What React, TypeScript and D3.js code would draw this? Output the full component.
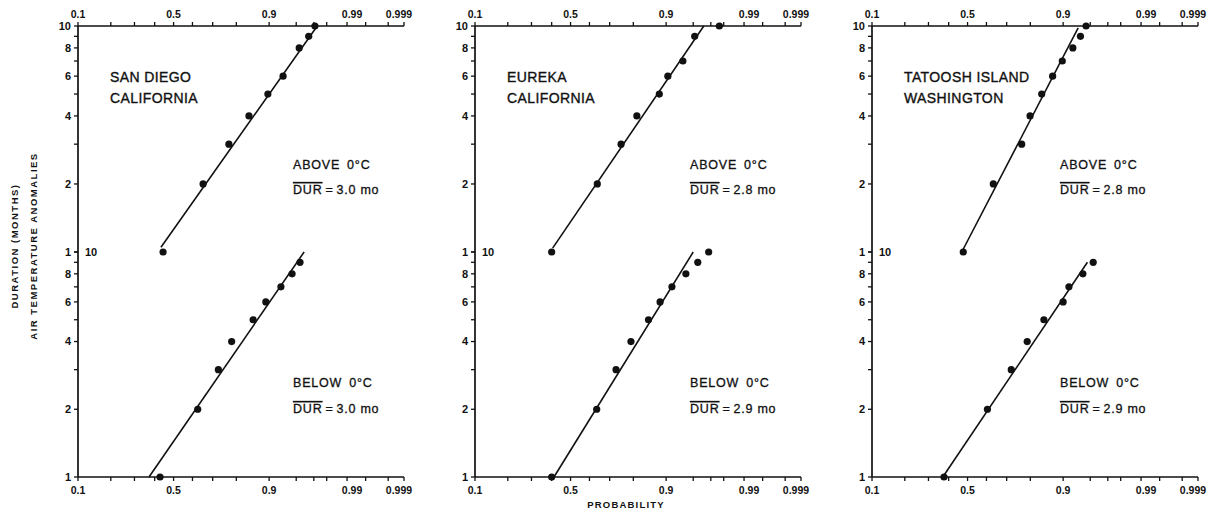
import React from "react";
import * as d3 from "d3";

// ---------- data ----------
const stationNames = ["SAN DIEGO", "EUREKA", "TATOOSH ISLAND"];
const stationStates = ["CALIFORNIA", "CALIFORNIA", "WASHINGTON"];
const meanAbove = ["3.0", "2.8", "2.8"];
const meanBelow = ["3.0", "2.9", "2.9"];

const probTicks = [0.1, 0.2, 0.3, 0.4, 0.5, 0.6, 0.7, 0.8, 0.9, 0.95, 0.97, 0.98, 0.99, 0.995, 0.998, 0.999];
const probLabels = [0.1, 0.5, 0.9, 0.99, 0.999];
const durTicks = [1, 2, 3, 4, 5, 6, 7, 8, 9, 10];
const durLabels = [10, 8, 6, 4, 2];

const sdAboveDur = [1, 2, 3, 4, 5, 6, 8, 9, 10];
const sdAboveProb = [0.444, 0.654, 0.771, 0.844, 0.897, 0.929, 0.954, 0.965, 0.971];
const sdBelowDur = [1, 2, 3, 4, 5, 6, 7, 8, 9];
const sdBelowProb = [0.428, 0.627, 0.726, 0.782, 0.857, 0.892, 0.925, 0.944, 0.955];

const euAboveDur = [1, 2, 3, 4, 5, 6, 7, 9, 10];
const euAboveProb = [0.4, 0.64, 0.751, 0.813, 0.883, 0.904, 0.934, 0.952, 0.977];
const euBelowDur = [1, 2, 3, 4, 5, 6, 7, 8, 9, 10];
const euBelowProb = [0.4, 0.637, 0.729, 0.791, 0.852, 0.885, 0.913, 0.939, 0.956, 0.968];

const taAboveDur = [1, 2, 3, 4, 5, 6, 7, 8, 9, 10];
const taAboveProb = [0.477, 0.635, 0.766, 0.799, 0.84, 0.873, 0.898, 0.921, 0.935, 0.944];
const taBelowDur = [1, 2, 3, 4, 5, 6, 7, 8, 9];
const taBelowProb = [0.376, 0.605, 0.721, 0.788, 0.847, 0.9, 0.913, 0.939, 0.954];

// fitted lines: [probability, duration] end points
const sdAboveFit = [[0.433, 1.05], [0.973, 10]];
const sdBelowFit = [[0.371, 1], [0.96, 10]];
const euAboveFit = [[0.405, 1.04], [0.963, 10]];
const euBelowFit = [[0.412, 1], [0.95, 10]];
const taAboveFit = [[0.469, 1], [0.931, 9.8]];
const taBelowFit = [[0.37, 1], [0.946, 9]];

// ---------- helpers ----------
function probit(p: number): number {
  const a = [-3.969683028665376e1, 2.209460984245205e2, -2.759285104469687e2, 1.38357751867269e2, -3.066479806614716e1, 2.506628277459239];
  const b = [-5.447609879822406e1, 1.615858368580409e2, -1.556989798598866e2, 6.680131188771972e1, -1.328068155288572e1];
  const c = [-7.784894002430293e-3, -3.223964580411365e-1, -2.400758277161838, -2.549732539343734, 4.374664141464968, 2.938163982698783];
  const d = [7.784695709041462e-3, 3.224671290700398e-1, 2.445134137142996, 3.754408661907416];
  const plow = 0.02425;
  if (p < plow) {
    const q = Math.sqrt(-2 * Math.log(p));
    return (((((c[0] * q + c[1]) * q + c[2]) * q + c[3]) * q + c[4]) * q + c[5]) / ((((d[0] * q + d[1]) * q + d[2]) * q + d[3]) * q + 1);
  }
  if (p <= 1 - plow) {
    const q = p - 0.5;
    const r = q * q;
    return ((((((a[0] * r + a[1]) * r + a[2]) * r + a[3]) * r + a[4]) * r + a[5]) * q) / (((((b[0] * r + b[1]) * r + b[2]) * r + b[3]) * r + b[4]) * r + 1);
  }
  const q = Math.sqrt(-2 * Math.log(1 - p));
  return -(((((c[0] * q + c[1]) * q + c[2]) * q + c[3]) * q + c[4]) * q + c[5]) / ((((d[0] * q + d[1]) * q + d[2]) * q + d[3]) * q + 1);
}

const panelsData = [
  { aDur: sdAboveDur, aProb: sdAboveProb, bDur: sdBelowDur, bProb: sdBelowProb, aFit: sdAboveFit, bFit: sdBelowFit },
  { aDur: euAboveDur, aProb: euAboveProb, bDur: euBelowDur, bProb: euBelowProb, aFit: euAboveFit, bFit: euBelowFit },
  { aDur: taAboveDur, aProb: taAboveProb, bDur: taBelowDur, bProb: taBelowProb, aFit: taAboveFit, bFit: taBelowFit },
];

const panelX = [78, 475, 872];
const annX = [215, 215, 188];
const W = 326;
const TOP = 26;
const MID = 252;
const BOT = 477;
const INK = "#111";
const FONT = "'Liberation Sans', Arial, sans-serif";

function Panel({ i }: { i: number }) {
  const x0 = panelX[i];
  const zs = d3.scaleLinear().domain([probit(0.1), probit(0.999)]).range([x0, x0 + W]);
  const x = (p: number) => zs(probit(p));
  const yUp = d3.scaleLog().domain([1, 10]).range([MID, TOP]);
  const yLo = d3.scaleLog().domain([1, 10]).range([BOT, MID]);
  const pd = panelsData[i];
  const line = (ys: d3.ScaleLogarithmic<number, number>) =>
    d3.line<number[]>().x((v) => x(v[0])).y((v) => ys(v[1]));
  const labelDx = (p: number) => (p === 0.99 ? 5 : p === 0.999 ? -5 : 0);
  const labelText = (p: number) => String(p);
  const ax = x0 + annX[i];

  return (
    <g>
      {/* axes */}
      <line x1={x0} x2={x0 + W} y1={TOP} y2={TOP} stroke={INK} strokeWidth={1.5} />
      <line x1={x0} x2={x0 + W} y1={BOT} y2={BOT} stroke={INK} strokeWidth={1.5} />
      <line x1={x0} x2={x0} y1={TOP} y2={BOT} stroke={INK} strokeWidth={1.7} />
      {probTicks.map((p) => (
        <g key={"pt" + p}>
          <line x1={x(p)} x2={x(p)} y1={TOP} y2={TOP - 4} stroke={INK} strokeWidth={1.3} />
          <line x1={x(p)} x2={x(p)} y1={BOT} y2={BOT + 4} stroke={INK} strokeWidth={1.3} />
        </g>
      ))}
      {probLabels.map((p) => (
        <g key={"pl" + p} fontFamily={FONT} fontWeight="bold" fontSize={10.5} fill={INK} textAnchor="middle">
          <text x={x(p) + labelDx(p)} y={18}>{labelText(p)}</text>
          <text x={x(p) + labelDx(p)} y={494}>{labelText(p)}</text>
        </g>
      ))}
      {durTicks.map((d) => (
        <g key={"dt" + d}>
          <line x1={x0} x2={x0 - 4} y1={yUp(d)} y2={yUp(d)} stroke={INK} strokeWidth={1.3} />
          <line x1={x0} x2={x0 - 4} y1={yLo(d)} y2={yLo(d)} stroke={INK} strokeWidth={1.3} />
        </g>
      ))}
      <g fontFamily={FONT} fontWeight="bold" fontSize={11} fill={INK} textAnchor="end">
        {durLabels.map((d) => (
          <text key={"du" + d} x={x0 - 7} y={yUp(d)} dy="0.35em">{d}</text>
        ))}
        <text x={x0 - 7} y={yUp(1)} dy="0.35em">1</text>
        {durLabels.filter((d) => d !== 10).map((d) => (
          <text key={"dl" + d} x={x0 - 7} y={yLo(d)} dy="0.35em">{d}</text>
        ))}
        <text x={x0 - 7} y={yLo(1)} dy="0.35em">1</text>
        <text x={x0 + 7} y={yLo(10)} dy="0.35em" textAnchor="start">10</text>
      </g>

      {/* fitted lines */}
      <path d={line(yUp)(pd.aFit) || ""} fill="none" stroke={INK} strokeWidth={1.6} />
      <path d={line(yLo)(pd.bFit) || ""} fill="none" stroke={INK} strokeWidth={1.6} />

      {/* points */}
      {pd.aDur.map((d, k) => (
        <circle key={"a" + k} cx={x(pd.aProb[k])} cy={yUp(d)} r={3.6} fill={INK} />
      ))}
      {pd.bDur.map((d, k) => (
        <circle key={"b" + k} cx={x(pd.bProb[k])} cy={yLo(d)} r={3.6} fill={INK} />
      ))}

      {/* texts */}
      <g fontFamily={FONT} fontSize={14} fill={INK} stroke={INK} strokeWidth={0.35} letterSpacing={0.4}>
        <text x={x0 + 32} y={82}>{stationNames[i]}</text>
        <text x={x0 + 32} y={103}>{stationStates[i]}</text>
      </g>
      <g fontFamily={FONT} fontSize={12.5} fill={INK} stroke={INK} strokeWidth={0.3} letterSpacing={0.8}>
        <text x={ax} y={169}>ABOVE<tspan dx={7}>0°C</tspan></text>
        <text x={ax} y={194}>
          <tspan style={{ textDecoration: "overline" }}>DUR</tspan>
          <tspan dx={3}>=</tspan>
          <tspan dx={3}>{meanAbove[i]}</tspan>
          <tspan dx={4}>mo</tspan>
        </text>
        <text x={ax} y={387}>BELOW<tspan dx={7}>0°C</tspan></text>
        <text x={ax} y={413}>
          <tspan style={{ textDecoration: "overline" }}>DUR</tspan>
          <tspan dx={3}>=</tspan>
          <tspan dx={3}>{meanBelow[i]}</tspan>
          <tspan dx={4}>mo</tspan>
        </text>
      </g>
    </g>
  );
}

export default function App() {
  return (
    <svg
      width={1218}
      height={520}
      viewBox="0 0 1218 520"
      style={{ position: "absolute", left: 0, top: 0, background: "#fff" }}
    >
      <rect x={0} y={0} width={1218} height={520} fill="#fff" />
      {[0, 1, 2].map((i) => (
        <Panel key={i} i={i} />
      ))}
      <g fontFamily={FONT} fontWeight="bold" fontSize={9.5} fill={INK} letterSpacing={1.5} textAnchor="middle">
        <text transform="translate(18,246) rotate(-90)">DURATION (MONTHS)</text>
        <text transform="translate(37,246) rotate(-90)">AIR TEMPERATURE ANOMALIES</text>
        <text x={626} y={508} letterSpacing={1.2}>PROBABILITY</text>
      </g>
    </svg>
  );
}
